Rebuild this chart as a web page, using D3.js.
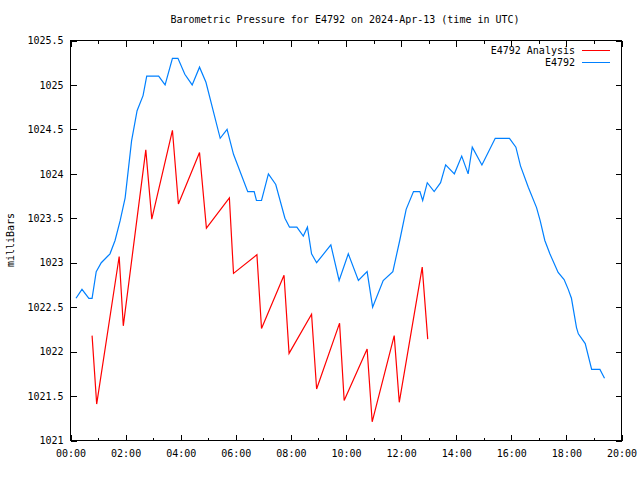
<!DOCTYPE html>
<html><head><meta charset="utf-8">
<script src="https://cdn.jsdelivr.net/npm/d3@7"></script>
<style>
html,body{margin:0;padding:0;background:#fff;}
svg text{font-family:"DejaVu Sans Mono",monospace;font-size:10px;fill:#000;}
</style></head><body>
<svg id="c" width="640" height="480"></svg>
<script>
const title = "Barometric Pressure for E4792 on 2024-Apr-13 (time in UTC)";
const yLabel = "milliBars";
const seriesNames = ["E4792 Analysis", "E4792"];
const seriesColors = ["#ff0000", "#0080ff"];
const xTickLabels = ["00:00","02:00","04:00","06:00","08:00","10:00","12:00","14:00","16:00","18:00","20:00"];
const yTickValues = [1021,1021.5,1022,1022.5,1023,1023.5,1024,1024.5,1025,1025.5];

const analysisTimes = ["00:47","00:57","01:46","01:55","02:44","02:57","03:42","03:55","04:41","04:56","05:46","05:55","06:46","06:56","07:45","07:56","08:45","08:56","09:46","09:56","10:46","10:57","11:45","11:56","12:46","12:58"];
const analysisValues = [1022.18,1021.41,1023.07,1022.29,1024.27,1023.49,1024.49,1023.66,1024.24,1023.39,1023.73,1022.88,1023.09,1022.26,1022.86,1021.98,1022.42,1021.58,1022.32,1021.45,1022.03,1021.21,1022.18,1021.43,1022.95,1022.14];

const obsTimes = ["00:12","00:25","00:40","00:47","00:56","01:07","01:26","01:37","01:48","01:59","02:13","02:25","02:38","02:46","03:12","03:26","03:42","03:54","04:09","04:25","04:41","04:55","05:26","05:41","05:55","06:26","06:40","06:45","06:56","07:11","07:27","07:47","07:57","08:13","08:27","08:36","08:45","08:56","09:27","09:45","10:05","10:27","10:46","10:58","11:21","11:42","11:57","12:11","12:27","12:41","12:47","12:57","13:12","13:26","13:37","13:56","14:12","14:26","14:35","14:56","15:25","15:56","16:10","16:20","16:37","16:55","17:03","17:13","17:24","17:42","17:55","18:04","18:11","18:22","18:26","18:41","18:55","19:13","19:23"];
const obsValues = [1022.6,1022.7,1022.6,1022.6,1022.9,1023.0,1023.1,1023.25,1023.47,1023.73,1024.37,1024.71,1024.88,1025.1,1025.1,1025.0,1025.3,1025.3,1025.12,1025.0,1025.2,1025.03,1024.4,1024.5,1024.22,1023.8,1023.8,1023.7,1023.7,1024.0,1023.88,1023.5,1023.4,1023.4,1023.3,1023.4,1023.1,1023.0,1023.2,1022.8,1023.1,1022.8,1022.9,1022.5,1022.8,1022.9,1023.25,1023.6,1023.8,1023.8,1023.7,1023.9,1023.8,1023.9,1024.1,1024.0,1024.2,1024.0,1024.3,1024.1,1024.4,1024.4,1024.3,1024.09,1023.85,1023.62,1023.47,1023.25,1023.1,1022.89,1022.81,1022.7,1022.6,1022.27,1022.2,1022.09,1021.8,1021.8,1021.7];

const parseT = d3.utcParse("%H:%M");
const fmtT = d3.utcFormat("%H:%M");
const svg = d3.select("#c");
const L = 70.5, R = 621.5, T = 40.5, B = 440.5;

const x = d3.scaleUtc().domain([parseT(xTickLabels[0]), parseT(xTickLabels[xTickLabels.length-1])]).range([L, R]);
const y = d3.scaleLinear().domain([1021, 1025.5]).range([B, T]);

const majorTicks = xTickLabels.map(parseT);
const minorTicks = d3.utcHour.every(1).range(x.domain()[0], x.domain()[1]).filter(d => d.getUTCHours() % 2 === 1);

// bottom axis
const gB = svg.append("g").attr("transform", `translate(0,${B})`)
  .call(d3.axisBottom(x).tickValues(majorTicks).tickFormat(fmtT).tickSizeInner(-6).tickSizeOuter(0).tickPadding(9));
const gBm = svg.append("g").attr("transform", `translate(0,${B})`)
  .call(d3.axisBottom(x).tickValues(minorTicks).tickFormat("").tickSizeInner(-3).tickSizeOuter(0));
const gT = svg.append("g").attr("transform", `translate(0,${T})`)
  .call(d3.axisTop(x).tickValues(majorTicks).tickFormat("").tickSizeInner(-6).tickSizeOuter(0));
const gTm = svg.append("g").attr("transform", `translate(0,${T})`)
  .call(d3.axisTop(x).tickValues(minorTicks).tickFormat("").tickSizeInner(-3).tickSizeOuter(0));
const gL = svg.append("g").attr("transform", `translate(${L},0)`)
  .call(d3.axisLeft(y).tickValues(yTickValues).tickFormat(d => String(d)).tickSizeInner(-6).tickSizeOuter(0).tickPadding(7));
const gR = svg.append("g").attr("transform", `translate(${R},0)`)
  .call(d3.axisRight(y).tickValues(yTickValues).tickFormat("").tickSizeInner(-6).tickSizeOuter(0));

svg.selectAll(".domain").remove();
svg.selectAll(".tick line").attr("stroke", "#000").attr("shape-rendering", "crispEdges");
svg.selectAll(".tick text").style("font-family", "DejaVu Sans Mono, monospace").style("font-size", "10px").attr("fill", "#000");

svg.append("rect").attr("x", L).attr("y", T).attr("width", R - L).attr("height", B - T)
  .attr("fill", "none").attr("stroke", "#000").attr("shape-rendering", "crispEdges");

const line = d3.line().x(d => x(d[0])).y(d => y(d[1]));
const redData = analysisTimes.map((t, i) => [parseT(t), analysisValues[i]]);
const blueData = obsTimes.map((t, i) => [parseT(t), obsValues[i]]);

svg.append("path").datum(redData).attr("d", line).attr("fill", "none").attr("stroke", seriesColors[0]).attr("stroke-width", 1.2);
svg.append("path").datum(blueData).attr("d", line).attr("fill", "none").attr("stroke", seriesColors[1]).attr("stroke-width", 1.2);

// title
svg.append("text").attr("x", 345).attr("y", 23).attr("text-anchor", "middle").text(title);
// y label
svg.append("text").attr("transform", "translate(14,240) rotate(-90)").attr("text-anchor", "middle").text(yLabel);

// legend
seriesNames.forEach((n, i) => {
  const ly = 49.5 + i * 12.5;
  svg.append("text").attr("x", 575).attr("y", ly + 4).attr("text-anchor", "end").text(n);
  svg.append("line").attr("x1", 582).attr("x2", 610).attr("y1", Math.round(ly) + 0.5).attr("y2", Math.round(ly) + 0.5)
    .attr("stroke", seriesColors[i]).attr("stroke-width", 1);
});
</script>
</body></html>
